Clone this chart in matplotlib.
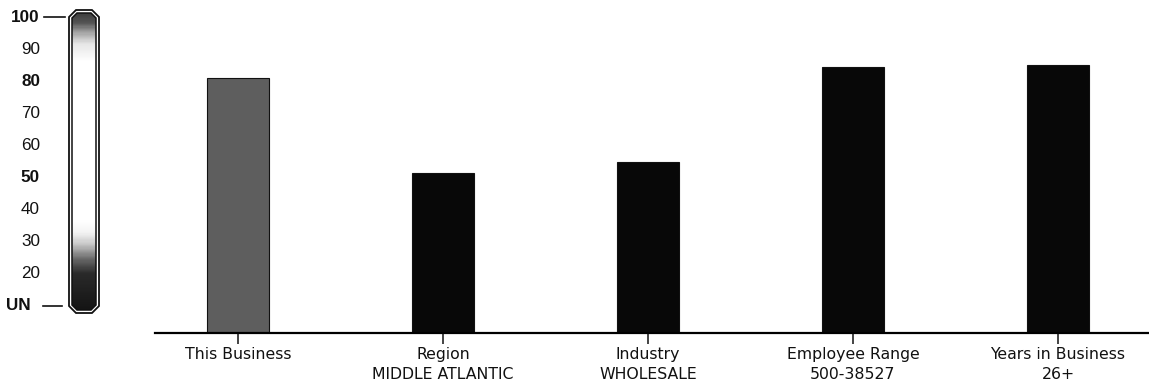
import numpy as np
import matplotlib
matplotlib.use("Agg")
import matplotlib.pyplot as plt
from matplotlib.colors import LinearSegmentedColormap
from matplotlib.patches import Polygon

# ---- data ----
categories = ["This Business", "Region", "Industry", "Employee Range", "Years in Business"]
subtitles = ["", "MIDDLE ATLANTIC", "WHOLESALE", "500-38527", "26+"]
scores = [80.6, 50.5, 54.2, 84.1, 84.8]
bar_colors = ["#5e5e5e", "#080808", "#080808", "#080808", "#080808"]

scale_ticks = [10, 20, 30, 40, 50, 60, 70, 80, 90, 100]
scale_labels = ["UN", "20", "30", "40", "50", "60", "70", "80", "90", "100"]
bold_labels = {"UN", "50", "80", "100"}

W, H = 1149, 392
fig = plt.figure(figsize=(W / 100, H / 100), dpi=100)
fig.patch.set_facecolor("white")

# ---- main bar chart ----
px0, base_px, top_px = 155, 333, 17
ax = fig.add_axes([px0 / W, (H - base_px) / H, 1 - px0 / W, (base_px - top_px) / H])
x = np.arange(len(categories))
ax.bar(x, scores, width=0.305, color=bar_colors, edgecolor="#111111", linewidth=0.8, zorder=2)
ax.set_xlim(-0.405, 4.444)
ax.set_ylim(0, 100)
for s in ["top", "right", "left"]:
    ax.spines[s].set_visible(False)
ax.spines["bottom"].set_linewidth(1.6)
ax.spines["bottom"].set_zorder(3)
ax.set_yticks([])
ax.set_xticks(x)
ax.set_xticklabels([c + ("\n" + s if s else "") for c, s in zip(categories, subtitles)],
                   fontsize=11.3, family="DejaVu Sans", linespacing=1.45)
ax.tick_params(axis="x", direction="out", length=8, width=1.1, pad=2, colors="#111111")
ax.patch.set_alpha(0)

# ---- score gauge on the left ----
g_lo, g_hi = 10 - 86 / 3.211, 100 + 17 / 3.211
gax = fig.add_axes([0, 0, 110 / W, 1])
gax.set_xlim(0, 110)
gax.set_ylim(g_lo, g_hi)
gax.axis("off")

u = 1 / 3.211  # one pixel in value units


def chamfer(x0, x1, y0, y1, c):
    cy = c * u
    return [(x0 + c, y1), (x1 - c, y1), (x1, y1 - cy), (x1, y0 + cy),
            (x1 - c, y0), (x0 + c, y0), (x0, y0 + cy), (x0, y1 - cy)]


outer = Polygon(chamfer(69, 99, 10 - 7 * u, 100 + 7 * u, 7), closed=True,
                fill=False, edgecolor="#111111", linewidth=1.3, zorder=3)
inner = Polygon(chamfer(72, 96, 10 - 4 * u, 100 + 4 * u, 5), closed=True,
                fill=False, edgecolor="#111111", linewidth=1.1, zorder=3)
gax.add_patch(outer)
gax.add_patch(inner)

# vertical shading: dark at the bottom, white through the middle, grey at the top
cmap = LinearSegmentedColormap.from_list(
    "gauge",
    [(0.0, "#151515"), (0.12, "#2a2a2a"), (0.17, "#6a6a6a"), (0.22, "#c8c8c8"),
     (0.26, "#f4f4f4"), (0.30, "#ffffff"), (0.84, "#ffffff"), (0.90, "#e6e6e6"),
     (0.94, "#a0a0a0"), (0.97, "#555555"), (1.0, "#404040")])
grad = np.linspace(0, 1, 300).reshape(-1, 1)
img = gax.imshow(grad, cmap=cmap, origin="lower", aspect="auto",
                 extent=(72, 96, 10 - 4 * u, 100 + 4 * u), zorder=1)
img.set_clip_path(inner)

for v, lab in zip(scale_ticks, scale_labels):
    xr = 31 if lab == "UN" else 40
    gax.text(xr, v, lab, ha="right", va="center", fontsize=12.3,
             family="Liberation Sans",
             fontweight="bold" if lab in bold_labels else "normal", color="#111111")
gax.plot([44, 65], [100, 100], color="#111111", linewidth=1.2)
gax.plot([43, 62], [10, 10], color="#111111", linewidth=1.2)

fig.savefig("out.png", dpi=100, facecolor="white")
